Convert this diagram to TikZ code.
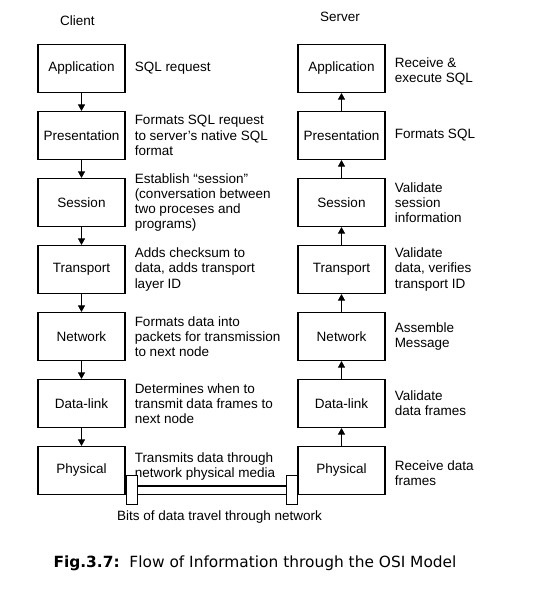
\documentclass[tikz,border=0pt]{standalone}
\usepackage{fontspec}
\setmainfont{Liberation Sans}
\newfontfamily\capfont{DejaVu Sans}
\usepackage{tikz}
\usetikzlibrary{positioning, arrows.meta, calc}

\tikzset{
  layer/.style={draw, line width=1.1pt, minimum width=87pt, minimum height=48pt, inner sep=0pt},
  desc/.style={inner sep=0pt, align=left, right=9pt of #1},
  flow/.style={-{Triangle[width=7pt,length=6.5pt]}, line width=0.7pt},
  plug/.style={draw, line width=0.9pt, fill=white, minimum width=11pt, minimum height=29pt, inner sep=0pt}
}

\begin{document}
\begin{tikzpicture}[font=\fontsize{13.5}{15.2}\selectfont, node distance=17.9pt]
  \useasboundingbox (0pt,0pt) rectangle (536pt,-592pt);

  % client stack
  \node[layer] (capp) at (81.5pt,-68.5pt) {Application};
  \node[layer, below=of capp] (cpres) {Presentation};
  \node[layer, below=of cpres] (csess) {Session};
  \node[layer, below=of csess] (ctrans) {Transport};
  \node[layer, below=of ctrans] (cnet) {Network};
  \node[layer, below=of cnet] (clink) {Data-link};
  \node[layer, below=of clink] (cphys) {Physical};
  \node[inner sep=0pt, anchor=south, above=18pt of capp, xshift=-4pt] (client) {Client};

  \node[desc=capp] (cappd) {SQL request};
  \node[desc=cpres] (cpresd) {Formats SQL request\\to server's native SQL\\format};
  \node[desc=csess] (csessd) {Establish ``session''\\(conversation between\\two proceses and\\programs)};
  \node[desc=ctrans] (ctransd) {Adds checksum to\\data, adds transport\\layer ID};
  \node[desc=cnet] (cnetd) {Formats data into\\packets for transmission\\to next node};
  \node[desc=clink] (clinkd) {Determines when to\\transmit data frames to\\next node};
  \node[desc=cphys, yshift=4pt] (cphysd) {Transmits data through\\network physical media};

  \draw[flow] (capp) -- (cpres);
  \draw[flow] (cpres) -- (csess);
  \draw[flow] (csess) -- (ctrans);
  \draw[flow] (ctrans) -- (cnet);
  \draw[flow] (cnet) -- (clink);
  \draw[flow] (clink) -- (cphys);

  % server stack
  \node[layer] (sapp) at (341.5pt,-68.5pt) {Application};
  \node[layer, below=of sapp] (spres) {Presentation};
  \node[layer, below=of spres] (ssess) {Session};
  \node[layer, below=of ssess] (strans) {Transport};
  \node[layer, below=of strans] (snet) {Network};
  \node[layer, below=of snet] (slink) {Data-link};
  \node[layer, below=of slink] (sphys) {Physical};
  \node[inner sep=0pt, anchor=south, above=22pt of sapp, xshift=-1.5pt] (server) {Server};

  \node[desc=sapp, yshift=-3pt] (sappd) {Receive \&\\execute SQL};
  \node[desc=spres] (spresd) {Formats SQL};
  \node[desc=ssess] (ssessd) {Validate\\session\\information};
  \node[desc=strans] (stransd) {Validate\\data, verifies\\transport ID};
  \node[desc=snet] (snetd) {Assemble\\Message};
  \node[desc=slink] (slinkd) {Validate\\data frames};
  \node[desc=sphys, yshift=-3pt] (sphysd) {Receive data\\frames};

  \draw[flow] (spres) -- (sapp);
  \draw[flow] (ssess) -- (spres);
  \draw[flow] (strans) -- (ssess);
  \draw[flow] (snet) -- (strans);
  \draw[flow] (slink) -- (snet);
  \draw[flow] (sphys) -- (slink);

  % network link
  \node[plug, anchor=south west, yshift=-10pt] (lplug) at (cphys.south east) {};
  \node[plug, anchor=south east, yshift=-10pt] (rplug) at (sphys.south west) {};
  \draw[line width=2pt] ([yshift=4.5pt]lplug.east) -- ([yshift=4.5pt]rplug.west);
  \draw[line width=0.9pt] ([yshift=-4.5pt]lplug.east) -- ([yshift=-4.5pt]rplug.west);
  \node[inner sep=0pt, anchor=north] (bits) at ($(lplug.south)!0.5!(rplug.south)+(8pt,-5.5pt)$)
    {Bits of data travel through network};

  \node[inner sep=0pt, anchor=base, font=\capfont\fontsize{15.4}{18}\selectfont] (caption) at (255pt,-567.7pt)
    {\textbf{Fig.3.7:}\ \ Flow of Information through the OSI Model};
\end{tikzpicture}
\end{document}
